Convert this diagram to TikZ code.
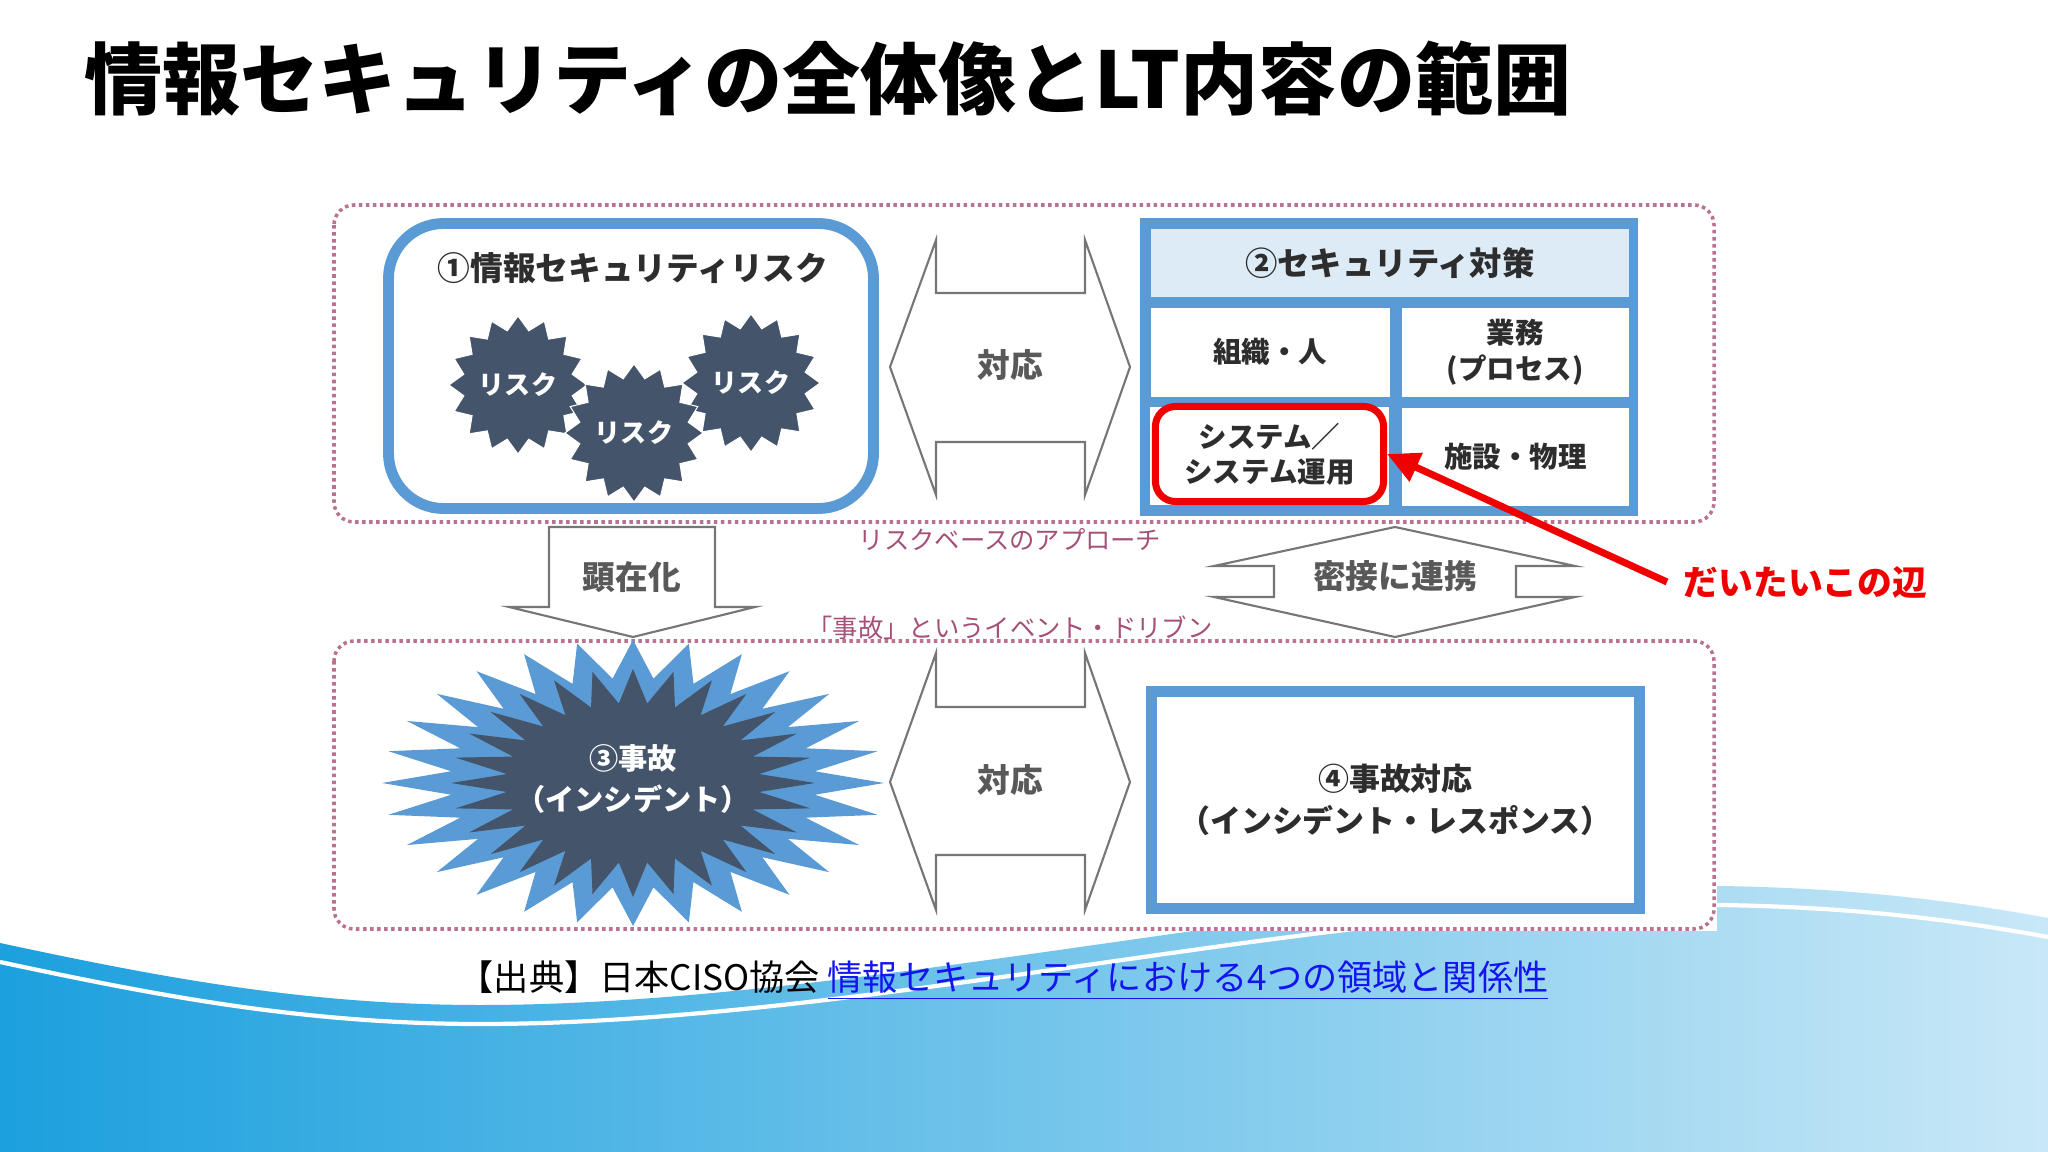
\documentclass[tikz,border=0pt]{standalone}
\usepackage{fontspec}
\setmainfont{Noto Sans CJK JP}
\usetikzlibrary{shapes.geometric,arrows.meta}

\definecolor{frameblue}{RGB}{91,155,213}
\definecolor{slate}{RGB}{68,84,106}
\definecolor{headblue}{RGB}{221,235,247}
\definecolor{arrowgray}{RGB}{118,118,118}
\definecolor{textgray}{RGB}{89,89,89}
\definecolor{darktext}{RGB}{45,45,45}
\definecolor{mauve}{RGB}{165,80,120}
\definecolor{dotmauve}{RGB}{185,115,145}
\definecolor{hintred}{RGB}{240,0,0}
\definecolor{linkblue}{RGB}{20,20,240}
\definecolor{seaL}{RGB}{28,160,222}
\definecolor{seaM}{RGB}{100,190,232}
\definecolor{seaR}{RGB}{200,232,247}

% wave at the foot of the slide
\newcommand{\waveline}{(0,943) .. controls (150,975) and (300,1005) .. (480,1005) .. controls (700,1005) and (950,965) .. (1200,930) .. controls (1450,895) and (1600,884) .. (1720,886) .. controls (1850,888) and (1950,900) .. (2048,918)}

\tikzset{
	dotbox/.style={draw=dotmauve, line width=1pt, dash pattern=on 1pt off 1pt, rounded corners=0.2cm, fill=white},
	blockarrow/.style={draw=arrowgray, line width=0.6pt, fill=white},
	arrowtext/.style={text=textgray, font=\bfseries\fontsize{9.3}{11}\selectfont},
	riskstar/.style={star, star points=16, star point ratio=1.25, minimum size=1.38cm, inner sep=0pt, fill=slate, draw=white, line width=0.3pt, text=white, font=\bfseries\fontsize{7.4}{8}\selectfont},
	cell/.style={fill=white, anchor=north west, inner sep=0pt, align=center, text=darktext, font=\bfseries\fontsize{8.1}{10}\selectfont},
	mauvetext/.style={text=mauve, font=\fontsize{7.2}{9}\selectfont}
}

\begin{document}
\begin{tikzpicture}[x=0.01cm,y=-0.01cm]
	\useasboundingbox (0,0) rectangle (2048,1152);
	
	\shade[left color=seaL, middle color=seaM, right color=seaR] \waveline -- (2048,1152) -- (0,1152) -- cycle;
	\draw[white, line width=1.2pt, shift={(0,19)}] \waveline;
	\fill[white] (330,200) rectangle (1717,931);
	
	\node[anchor=west, inner sep=0pt, font=\bfseries\fontsize{22.2}{26}\selectfont] (title) at (84,79) {情報セキュリティの全体像とLT内容の範囲};
	
	\draw[dotbox] (334,205) rectangle (1714,522);
	\draw[dotbox] (334,641) rectangle (1714,929);
	
	% (1) risk
	\draw[draw=frameblue, line width=3.1pt, rounded corners=0.55cm] (388.5,223.5) rectangle (873.5,508.5);
	\node[text=darktext, font=\bfseries\fontsize{9.3}{11}\selectfont] (risktitle) at (633,268) {①情報セキュリティリスク};
	\node[riskstar] (risk1) at (518,385) {リスク};
	\node[riskstar] (risk3) at (751,383) {リスク};
	\node[riskstar] (risk2) at (634,433) {リスク};
	
	% (2) measures
	\fill[frameblue] (1140,218) rectangle (1638,516);
	\node[cell, fill=headblue, minimum width=4.78cm, minimum height=0.68cm, font=\bfseries\fontsize{9.2}{11}\selectfont] (measures) at (1150,228) {②セキュリティ対策};
	\node[cell, minimum width=2.39cm, minimum height=0.89cm] (org) at (1150,307) {組織・人};
	\node[cell, minimum width=2.27cm, minimum height=0.89cm] (biz) at (1401,307) {業務\\(プロセス)};
	\fill[white] (1150,407) rectangle (1389,505);
	\node[cell, minimum width=2.27cm, minimum height=0.98cm] (fac) at (1401,407) {施設・物理};
	\node[cell, anchor=center, draw=hintred, line width=2pt, rounded corners=0.2cm, minimum width=2.28cm, minimum height=0.95cm] (sys) at (1269.5,454) {システム／\\システム運用};
	
	% block arrows
	\draw[blockarrow] (890,367) -- (936,240) -- (936,293) -- (1085,293) -- (1085,240) -- (1130,367) -- (1085,495) -- (1085,442) -- (936,442) -- (936,495) -- cycle;
	\node[arrowtext] (cope1) at (1010,365) {対応};
	\draw[blockarrow] (890,782) -- (936,653) -- (936,707) -- (1085,707) -- (1085,653) -- (1130,782) -- (1085,910) -- (1085,855) -- (936,855) -- (936,910) -- cycle;
	\node[arrowtext] (cope2) at (1010,780) {対応};
	\draw[blockarrow] (549,527) -- (715,527) -- (715,607) -- (755,607) -- (633,637) -- (509,607) -- (549,607) -- cycle;
	\node[arrowtext] (occur) at (632,577) {顕在化};
	\draw[blockarrow] (1395,527) -- (1575,566) -- (1516,566) -- (1516,597) -- (1575,597) -- (1395,637) -- (1214,597) -- (1274,597) -- (1274,566) -- (1214,566) -- cycle;
	\node[arrowtext] (link) at (1395,576) {密接に連携};
	
	\node[mauvetext] (riskbased) at (1010,540) {リスクベースのアプローチ};
	\node[mauvetext] (eventdriven) at (1010,628) {「事故」というイベント・ドリブン};
	
	% (3) incident
	\fill[frameblue] plot[samples at={0,...,55}, variable=\k] ({633+(251-68*isodd(\k))*cos(\k*6.4286)}, {783+(143-38*isodd(\k))*sin(\k*6.4286)}) -- cycle;
	\fill[slate] plot[samples at={0,...,55}, variable=\k] ({633+(182-55*isodd(\k))*cos(\k*6.4286)}, {783+(114-34*isodd(\k))*sin(\k*6.4286)}) -- cycle;
	\node[align=center, text=white, font=\bfseries\fontsize{8.3}{11.8}\selectfont] (incident) at (633,779) {③事故\\（インシデント）};
	
	% (4) response
	\node[draw=frameblue, line width=3.1pt, fill=white, minimum width=4.88cm, minimum height=2.17cm, align=center, text=darktext, font=\bfseries\fontsize{8.8}{12}\selectfont] (response) at (1395.5,800) {④事故対応\\（インシデント・レスポンス）};
	
	% pointer
	\node[anchor=west, inner sep=0pt, text=hintred, font=\bfseries\fontsize{9.9}{12}\selectfont] (hint) at (1683,582) {だいたいこの辺};
	\draw[hintred, line width=2pt, -{Triangle[length=0.32cm,width=0.3cm]}] ([xshift=-0.16cm]hint.west) -- (sys.east);
	
	\node[anchor=west, inner sep=0pt, font=\fontsize{10}{12}\selectfont] (source) at (458,981) {【出典】日本CISO協会 \textcolor{linkblue}{\underline{情報セキュリティにおける4つの領域と関係性}}};
	
\end{tikzpicture}
\end{document}
